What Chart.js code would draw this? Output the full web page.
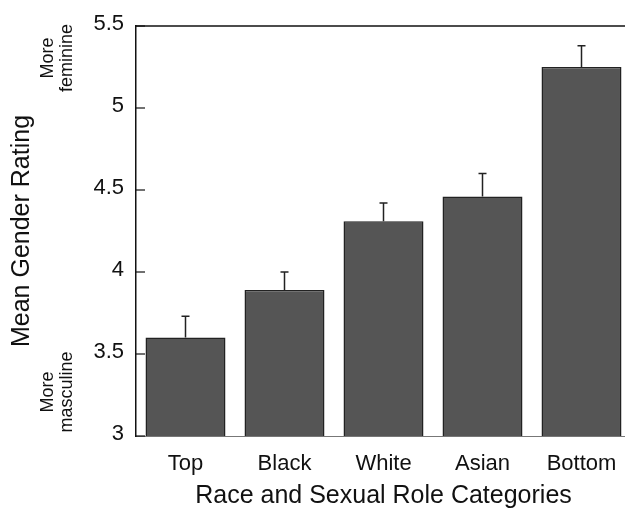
<!DOCTYPE html>
<html>
<head>
<meta charset="utf-8">
<script src="https://cdn.jsdelivr.net/npm/chart.js@4/dist/chart.umd.min.js"></script>
<style>
  html, body { margin: 0; padding: 0; background: #fff; overflow: hidden; }
  #wrap { width: 640px; height: 512px; }
</style>
</head>
<body>
<div id="wrap"><canvas id="c" width="640" height="512"></canvas></div>
<script>
// Mean gender rating by race and sexual role category
const categories = ['Top', 'Black', 'White', 'Asian', 'Bottom'];
const meanRatings = [3.60, 3.89, 4.31, 4.46, 5.25];
const standardErrors = [0.13, 0.11, 0.11, 0.14, 0.13];
const yTickValues = [3, 3.5, 4, 4.5, 5, 5.5];
const yAxisTitle = 'Mean Gender Rating';
const xAxisTitle = 'Race and Sexual Role Categories';
const scaleEndLabels = { high: ['More', 'feminine'], low: ['More', 'masculine'] };

const FONT = '"Liberation Sans", Arial, Helvetica, sans-serif';

// Upward-only error bars with a small cap
const errorBars = {
  id: 'errorBars',
  afterDatasetsDraw(chart) {
    const { ctx, scales: { y } } = chart;
    const meta = chart.getDatasetMeta(0);
    ctx.save();
    ctx.strokeStyle = '#222';
    ctx.lineWidth = 1.5;
    meta.data.forEach((bar, i) => {
      const yTop = y.getPixelForValue(meanRatings[i] + standardErrors[i]);
      const yBase = y.getPixelForValue(meanRatings[i]);
      ctx.beginPath();
      ctx.moveTo(bar.x, yBase);
      ctx.lineTo(bar.x, yTop);
      ctx.moveTo(bar.x - 4, yTop);
      ctx.lineTo(bar.x + 4, yTop);
      ctx.stroke();
    });
    ctx.restore();
  }
};

// Frame: top rule and inward tick marks on the value axis
const frame = {
  id: 'frame',
  afterDraw(chart) {
    const { ctx, chartArea: a, scales: { y } } = chart;
    ctx.save();
    ctx.strokeStyle = '#111';
    ctx.lineWidth = 1.5;
    ctx.beginPath();
    ctx.moveTo(a.left, a.top);
    ctx.lineTo(chart.width, a.top);
    ctx.stroke();
    ctx.lineWidth = 1.2;
    yTickValues.forEach(v => {
      const py = y.getPixelForValue(v);
      ctx.beginPath();
      ctx.moveTo(a.left, py);
      ctx.lineTo(a.left + 9, py);
      ctx.stroke();
    });
    // End-of-scale descriptors beside the value axis
    ctx.fillStyle = '#111';
    ctx.font = '18px ' + FONT;
    ctx.textAlign = 'center';
    ctx.textBaseline = 'middle';
    const drawRotated = (lines, cy) => {
      ctx.save();
      ctx.translate(58, cy);
      ctx.rotate(-Math.PI / 2);
      lines.forEach((t, k) => ctx.fillText(t, 0, (k - (lines.length - 1) / 2) * 19));
      ctx.restore();
    };
    drawRotated(scaleEndLabels.high, 58);
    drawRotated(scaleEndLabels.low, 392);
    ctx.restore();
  }
};

new Chart(document.getElementById('c'), {
  type: 'bar',
  data: {
    labels: categories,
    datasets: [{
      data: meanRatings,
      backgroundColor: '#555555',
      borderColor: '#222222',
      borderWidth: 1.5,
      barPercentage: 1,
      categoryPercentage: 0.808
    }]
  },
  options: {
    responsive: false,
    animation: false,
    layout: { padding: { left: 0, right: 9, top: 26, bottom: 0 } },
    plugins: { legend: { display: false }, tooltip: { enabled: false } },
    scales: {
      x: {
        grid: { display: false, drawTicks: false },
        border: { display: true, color: '#777', width: 1 },
        ticks: { color: '#111', font: { family: FONT, size: 22 }, padding: 15 },
        title: {
          display: true, text: xAxisTitle, color: '#111',
          font: { family: FONT, size: 25 }, padding: { top: 0, bottom: 1 }
        },
        afterFit(s) { s.height = 76; }
      },
      y: {
        min: 3, max: 5.5,
        grid: { display: false, drawTicks: false },
        border: { display: true, color: '#111', width: 1.5 },
        afterBuildTicks(s) { s.ticks = yTickValues.map(v => ({ value: v })); },
        ticks: {
          color: '#111', font: { family: FONT, size: 22 }, padding: 12, labelOffset: -2,
          callback: v => String(v)
        },
        title: {
          display: true, text: yAxisTitle, color: '#111',
          font: { family: FONT, size: 25 }, padding: { top: 7, bottom: 0 }
        },
        afterFit(s) { s.width = 136; }
      }
    }
  },
  plugins: [errorBars, frame]
});
</script>
</body>
</html>
